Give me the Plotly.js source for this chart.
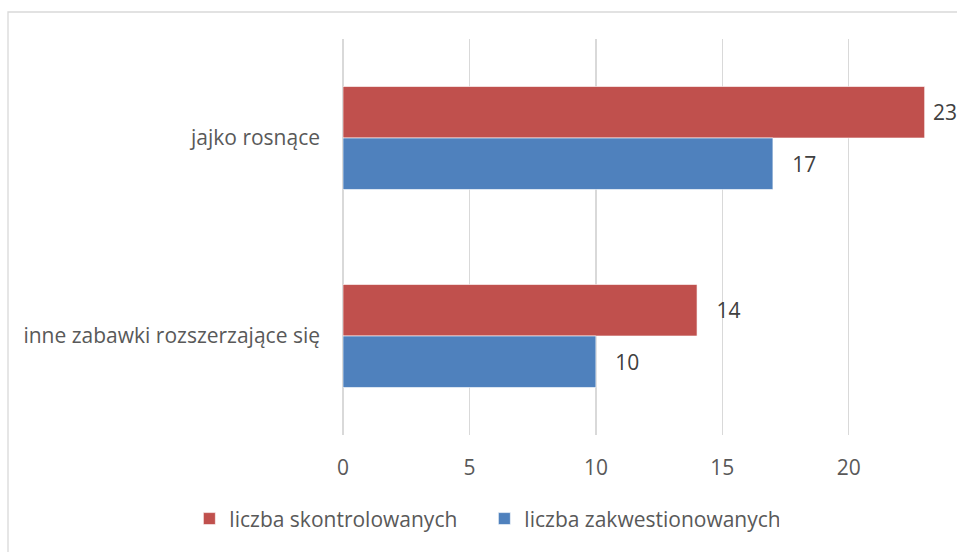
<!DOCTYPE html>
<html>
<head>
<meta charset="utf-8">
<script src="https://cdn.plot.ly/plotly-3.0.1.min.js"></script>
<style>html,body{margin:0;padding:0;background:#fff;}#chart{width:957px;height:552px;}</style>
</head>
<body>
<div id="chart"></div>
<script>
const categories = ["jajko rosnące", "inne zabawki rozszerzające się"];
const seriesNames = ["liczba skontrolowanych", "liczba zakwestionowanych"];
const skontrolowanych = [23, 14];
const zakwestionowanych = [17, 10];
const tickValues = [0, 5, 10, 15, 20];

const font = "'Open Sans', sans-serif";
const FS = 21;
// label padding (non-breaking spaces) so the value sits clear of the bar end
const lbl = v => (v > 22 ? "\u00a0" : "\u00a0\u00a0\u00a0") + String(v);

const traces = [
  {
    type: "bar", orientation: "h", name: seriesNames[0],
    y: categories, x: skontrolowanych,
    text: skontrolowanych.map(lbl), textposition: "outside", cliponaxis: false,
    constraintext: "none",
    textfont: {family: font, size: FS, color: "#404040"},
    marker: {color: "#c0504d", line: {color: "rgba(255,255,255,0.6)", width: 1}},
    hoverinfo: "x+name"
  },
  {
    type: "bar", orientation: "h", name: seriesNames[1],
    y: categories, x: zakwestionowanych,
    text: zakwestionowanych.map(lbl), textposition: "outside", cliponaxis: false,
    constraintext: "none",
    textfont: {family: font, size: FS, color: "#404040"},
    marker: {color: "#4f81bd", line: {color: "rgba(255,255,255,0.6)", width: 1}},
    hoverinfo: "x+name"
  }
];

const layout = {
  width: 957, height: 552,
  margin: {l: 343, r: 2, t: 39, b: 117},
  paper_bgcolor: "#fff", plot_bgcolor: "#fff",
  barmode: "group", bargap: 0.48, bargroupgap: 0,
  showlegend: true,
  legend: {
    orientation: "h", x: 0.231, xanchor: "center", y: -0.212, yanchor: "middle",
    font: {family: font, size: FS, color: "#595959"},
    entrywidth: 250, entrywidthmode: "pixels", tracegroupgap: 0
  },
  xaxis: {
    range: [0, 24.2], tickvals: tickValues, ticktext: tickValues.map(String),
    showgrid: true, gridcolor: "#d9d9d9", gridwidth: 1.3,
    zeroline: true, zerolinecolor: "#d9d9d9", zerolinewidth: 1.3,
    showline: false, ticks: "", ticklabelstandoff: 18,
    tickfont: {family: font, size: FS, color: "#595959"}, fixedrange: true
  },
  yaxis: {
    type: "category", autorange: "reversed",
    showgrid: false, zeroline: false, showline: false, ticks: "",
    ticklabelstandoff: 22,
    tickfont: {family: font, size: FS, color: "#595959"}, fixedrange: true
  },
  shapes: [{
    type: "rect", xref: "paper", yref: "paper",
    x0: (8 - 343) / 612, x1: 1.2, y0: -0.5, y1: (435 - 12) / 396,
    line: {color: "#d9d9d9", width: 1.3}, fillcolor: "rgba(0,0,0,0)", layer: "below"
  }]
};

Plotly.newPlot("chart", traces, layout, {displayModeBar: false, staticPlot: true});
</script>
</body>
</html>
